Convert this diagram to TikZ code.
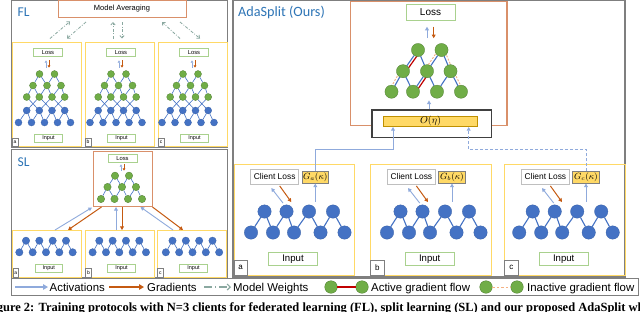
\documentclass[tikz,border=0pt]{standalone}
\usepackage{fontspec}
\setmainfont{Liberation Sans}
\newfontfamily\calfont{Carlito}
\newfontfamily\capfont{Liberation Serif}
\usetikzlibrary{arrows.meta,calc}
\pgfdeclarelayer{bgl}
\pgfdeclarelayer{edges}
\pgfsetlayers{bgl,edges,main}
\definecolor{bfill}{HTML}{4472C4}
\definecolor{bdraw}{HTML}{3A62A8}
\definecolor{gfill}{HTML}{70AD47}
\definecolor{gdraw}{HTML}{507E32}
\definecolor{edgeblue}{HTML}{4472C4}
\definecolor{actblue}{HTML}{8FAADC}
\definecolor{gradorange}{HTML}{C55A11}
\definecolor{mwgray}{HTML}{8AA8A0}
\definecolor{panelgray}{HTML}{7F7F7F}
\definecolor{srvorange}{HTML}{D9906A}
\definecolor{ylw}{HTML}{FFD966}
\definecolor{boxgreen}{HTML}{A9D18E}
\definecolor{titleblue}{HTML}{2E75B6}
\definecolor{activered}{HTML}{C00000}
\definecolor{inactpink}{HTML}{F4B183}
\definecolor{clgray}{HTML}{BFBFBF}
\definecolor{obgray}{HTML}{404040}
\definecolor{obarborder}{HTML}{BF9000}
\begin{document}
\begin{tikzpicture}[x=1pt,y=-1pt,
  panel/.style={draw=panelgray, line width=0.9pt},
  clientbox/.style={draw=ylw, line width=1pt, inner sep=0},
  srvbox/.style={draw=srvorange, line width=1pt, inner sep=0},
  tbox/.style={draw=boxgreen, line width=0.8pt, fill=white, inner sep=0},
  lblbox/.style={draw=panelgray, line width=0.5pt, fill=white, inner sep=0},
  gnode/.style={circle, fill=gfill, draw=gdraw, line width=0.3pt, inner sep=0, minimum size=#1},
  bnode/.style={circle, fill=bfill, draw=bdraw, line width=0.3pt, inner sep=0, minimum size=#1},
  tedge/.style={draw=edgeblue, line width=#1},
  tedge/.default=0.6pt,
  actS/.style={draw=actblue, line width=0.7pt, -{Triangle[length=2.2pt,width=2.6pt]}},
  gradS/.style={draw=gradorange, line width=0.7pt, -{Triangle[length=2.2pt,width=2.6pt]}},
  actM/.style={draw=actblue, line width=0.9pt, -{Triangle[length=3.6pt,width=3.8pt]}},
  gradM/.style={draw=gradorange, line width=1pt, -{Triangle[length=3.6pt,width=3.8pt]}},
  actL/.style={draw=actblue, line width=1.4pt, -{Triangle[length=5pt,width=5.5pt]}},
  gradL/.style={draw=gradorange, line width=1.4pt, -{Triangle[length=5pt,width=5.5pt]}},
  mw/.style={draw=mwgray, line width=0.8pt, dash pattern=on 3pt off 1.6pt on 0.8pt off 1.6pt, -{Straight Barb[length=2.4pt,width=4.4pt]}},
  mwL/.style={draw=mwgray, line width=1.2pt, dash pattern=on 8pt off 3pt on 1.2pt off 3pt, -{Straight Barb[length=3pt,width=6pt]}},
  ttl/.style={font=\calfont\fontsize{13.5}{15}\selectfont, text=titleblue, anchor=west, inner sep=0},
  lgtxt/.style={font=\fontsize{11.4}{13}\selectfont, anchor=base west, inner sep=0}
]
\useasboundingbox (0,0) rectangle (640,311);
\begin{pgfonlayer}{bgl}
  \fill[white] (0,0) rectangle (640,311);
\end{pgfonlayer}

% ================= FL =================
\draw[panel] (11.5,0.6) rectangle (227,147);
\node[ttl] (fltitle) at (17.5,12.5) {FL};
\node[srvbox, line width=0.9pt, minimum width=128pt, minimum height=16.5pt, font=\fontsize{7.5}{9}\selectfont] (mavg) at (122,8.75) {Model Averaging};
\foreach \i/\sx/\sy/\ex/\ey in {1/50/38.5/70/21.5, 2/86/22/67/38.5, 3/113/38.5/113/22, 4/122/22/122/38.5, 5/180/38.5/162/22, 6/180/22/200/38.5}{
  \coordinate (mw\i s) at (\sx,\sy);
  \coordinate (mw\i e) at (\ex,\ey);
  \draw[mw] (mw\i s) -- (mw\i e);
}
\foreach \lt/\cx/\tc in {a/46.5/47,b/119.5/118.5,c/192.5/190.5}{
  \draw[clientbox] (\cx-34.5,42) rectangle (\cx+34.5,146);
  \node[tbox, minimum width=29pt, minimum height=8.5pt, font=\fontsize{5.8}{6}\selectfont] (fl\lt-loss) at (\cx+1.5,52.5) {Loss};
  \node[tbox, minimum width=28pt, minimum height=7.5pt, font=\fontsize{5.5}{6}\selectfont] (fl\lt-in) at (\cx+2,138.5) {Input};
  \node[lblbox, minimum width=6pt, minimum height=8pt, font=\fontsize{5}{5}\selectfont] (fl\lt-lab) at (\cx-31.5,142) {\lt};
  \foreach \k/\dx in {1/-7.5,2/7.5} \node[gnode=7pt] (fl\lt-1-\k) at (\tc+\dx,74) {};
  \foreach \k/\dx in {1/-14,2/0,3/14} \node[gnode=7pt] (fl\lt-2-\k) at (\tc+\dx,85.5) {};
  \foreach \k/\dx in {1/-20.3,2/-7.7,3/5,4/17.7}{
    \node[gnode=7pt] (fl\lt-3-\k) at (\tc+\dx,97) {};
    \node[bnode=7pt] (fl\lt-4-\k) at (\tc+\dx,110.5) {};
  }
  \foreach \k/\dx in {1/-28.5,2/-15.5,3/-2.5,4/10.5,5/23.5} \node[bnode=7pt] (fl\lt-5-\k) at (\tc+\dx,122.5) {};
  \draw[actS] ([shift={(-2,10.5)}]fl\lt-loss.south) -- ([shift={(-2,3.3)}]fl\lt-loss.south);
  \draw[gradS] ([shift={(1,3.3)}]fl\lt-loss.south) -- ([shift={(1,10.5)}]fl\lt-loss.south);
  \begin{pgfonlayer}{edges}
    \draw[tedge] (fl\lt-1-1) -- (fl\lt-2-1) (fl\lt-1-1) -- (fl\lt-2-2);
    \draw[tedge] (fl\lt-1-2) -- (fl\lt-2-2) (fl\lt-1-2) -- (fl\lt-2-3);
    \foreach \j [evaluate=\j as \n using int(\j+1)] in {1,2,3}{
      \draw[tedge] (fl\lt-2-\j) -- (fl\lt-3-\j) (fl\lt-2-\j) -- (fl\lt-3-\n);
      \draw[tedge] (fl\lt-3-\j) -- (fl\lt-4-\n) (fl\lt-3-\n) -- (fl\lt-4-\j);}
    \foreach \j [evaluate=\j as \n using int(\j+1)] in {1,2,3,4}{
      \draw[tedge] (fl\lt-4-\j) -- (fl\lt-5-\j) (fl\lt-4-\j) -- (fl\lt-5-\n);}
  \end{pgfonlayer}
}

% ================= SL =================
\draw[panel] (11.5,149.5) rectangle (227,277.5);
\node[ttl] (sltitle) at (17.5,162) {SL};
\node[srvbox, minimum width=59pt, minimum height=55.5pt] (slsrv) at (122.5,178.75) {};
\node[tbox, minimum width=29pt, minimum height=7.5pt, font=\fontsize{5.8}{6}\selectfont] (slloss) at (122.5,158.5) {Loss};
\draw[actS] ([shift={(-1.5,8)}]slloss.south) -- ([shift={(-1.5,1.8)}]slloss.south);
\draw[gradS] ([shift={(1.5,1.8)}]slloss.south) -- ([shift={(1.5,8)}]slloss.south);
\foreach \k/\x in {1/115,2/129} \node[gnode=7.4pt] (sl-1-\k) at (\x,175.7) {};
\foreach \k/\x in {1/107.5,2/122,3/136} \node[gnode=7.4pt] (sl-2-\k) at (\x,187) {};
\foreach \k/\x in {1/101,2/114.5,3/128,4/142} \node[gnode=7.4pt] (sl-3-\k) at (\x,199) {};
\begin{pgfonlayer}{edges}
  \foreach \j [evaluate=\j as \n using int(\j+1)] in {1,2}{
    \draw[tedge] (sl-1-\j) -- (sl-2-\j) (sl-1-\j) -- (sl-2-\n);}
  \foreach \j [evaluate=\j as \n using int(\j+1)] in {1,2,3}{
    \draw[tedge] (sl-2-\j) -- (sl-3-\j) (sl-2-\j) -- (sl-3-\n);}
\end{pgfonlayer}
\foreach \lt/\cx/\tc in {a/47.3/46,b/120/119.3,c/192/192.5}{
  \node[clientbox, minimum width=69pt, minimum height=47pt] (sl\lt) at (\cx,254) {};
  \foreach \k/\dx in {1/-20,2/-6.67,3/6.67,4/20} \node[bnode=7.4pt] (sl\lt-t-\k) at (\tc+\dx,240.7) {};
  \foreach \k/\dx in {1/-26.67,2/-13.33,3/0,4/13.33,5/26.67} \node[bnode=7.4pt] (sl\lt-b-\k) at (\tc+\dx,252.3) {};
  \node[tbox, minimum width=27.5pt, minimum height=8.5pt, font=\fontsize{5.5}{6}\selectfont] (sl\lt-in) at (\cx+1.5,268.3) {Input};
  \node[lblbox, minimum width=5.8pt, minimum height=9pt, font=\fontsize{5}{5}\selectfont] (sl\lt-lab) at (\cx-31.6,273) {\lt};
  \begin{pgfonlayer}{edges}
    \foreach \j [evaluate=\j as \n using int(\j+1)] in {1,2,3,4}{
      \draw[tedge] (sl\lt-b-\j) -- (sl\lt-t-\j) -- (sl\lt-b-\n);}
  \end{pgfonlayer}
}
\draw[actM] ([xshift=7.7pt]sla.north) -- ([shift={(-0.5,0.5)}]slsrv.south west);
\draw[gradM] ([xshift=9pt]slsrv.south west) -- ([xshift=20.7pt]sla.north);
\draw[actM] ([xshift=-4pt]slb.north) -- ([xshift=-6.5pt]slsrv.south);
\draw[gradM] ([xshift=-0.5pt]slsrv.south) -- ([xshift=2pt]slb.north);
\draw[actM] ([xshift=-19pt]slc.north) -- ([xshift=-12pt]slsrv.south east);
\draw[gradM] (slsrv.south east) -- ([xshift=-9pt]slc.north);

% ================= AdaSplit =================
\draw[panel, line width=1.1pt] (233,0.6) rectangle (625,277);
\node[ttl, font=\calfont\fontsize{14.2}{16}\selectfont] (adatitle) at (238,12.3) {AdaSplit (Ours)};
\node[srvbox, line width=1.1pt, minimum width=156.3pt, minimum height=124pt] (adasrv) at (428.85,63.7) {};
\node[tbox, line width=1pt, minimum width=49pt, minimum height=16.4pt, font=\fontsize{10}{12}\selectfont] (adaloss) at (430.5,12.5) {Loss};
\draw[actM] ([shift={(-3.5,17)}]adaloss.south) -- ([shift={(-3.5,5.5)}]adaloss.south);
\draw[gradM] ([shift={(3.2,5.5)}]adaloss.south) -- ([shift={(3.2,17)}]adaloss.south);
\foreach \k/\x in {1/418,2/441.5} \node[gnode=13.2pt] (s-1-\k) at (\x,50) {};
\foreach \k/\x in {1/403,2/427,3/450.5} \node[gnode=13.2pt] (s-2-\k) at (\x,71.2) {};
\foreach \k/\x in {1/391.5,2/413,3/437,4/461} \node[gnode=13.2pt] (s-3-\k) at (\x,91.7) {};
\begin{pgfonlayer}{edges}
  \foreach \a/\b in {1-1/2-1,1-1/2-2,1-2/2-2,1-2/2-3,2-1/3-1,2-1/3-2,2-2/3-2,2-2/3-3,2-3/3-3,2-3/3-4}
    \draw[tedge=1.1pt] (s-\a) -- (s-\b);
  \draw[activered, line width=1.2pt] ($(s-1-1)!2.6pt!90:(s-2-1)$) -- ($(s-2-1)!2.6pt!-90:(s-1-1)$);
  \draw[activered, line width=1.2pt] ($(s-2-2)!2.6pt!90:(s-3-2)$) -- ($(s-3-2)!2.6pt!-90:(s-2-2)$);
  \draw[inactpink, line width=0.9pt, dash pattern=on 2pt off 1.5pt] ($(s-1-2)!2.6pt!-90:(s-2-2)$) -- ($(s-2-2)!2.6pt!90:(s-1-2)$);
  \draw[inactpink, line width=0.9pt, dash pattern=on 2pt off 1.5pt] ($(s-1-2)!2.6pt!90:(s-2-3)$) -- ($(s-2-3)!2.6pt!-90:(s-1-2)$);
  \draw[inactpink, line width=0.9pt, dash pattern=on 2pt off 1.5pt] ($(s-2-1)!2.6pt!-90:(s-3-1)$) -- ($(s-3-1)!2.6pt!90:(s-2-1)$);
  \draw[inactpink, line width=0.9pt, dash pattern=on 2pt off 1.5pt] ($(s-2-3)!2.6pt!90:(s-3-4)$) -- ($(s-3-4)!2.6pt!-90:(s-2-3)$);
\end{pgfonlayer}
\node[draw=obgray, line width=1.2pt, fill=white, minimum width=119.3pt, minimum height=27.7pt, inner sep=0] (obox) at (431.65,123.85) {};
\node[fill=ylw, draw=obarborder, line width=0.6pt, minimum width=93.6pt, minimum height=10.7pt, inner sep=0, font=\fontsize{10}{12}\selectfont] (obar) at (430.5,121.35) {$O(\eta)$};
\draw[actM] ([xshift=-2.65pt]obox.north) -- ([shift={(-2.65,-9)}]obox.north);

\foreach \lt/\bx/\ts in {a/234/0,b/370.7/-0.7,c/504.7/-2.5}{
  \node[clientbox, minimum width=120.5pt, minimum height=111pt] (ada\lt) at (\bx+60.25,219.5) {};
  \node[draw=clgray, line width=0.8pt, fill=white, minimum width=48pt, minimum height=15.3pt, inner sep=0, font=\fontsize{8.4}{10}\selectfont] (cl\lt) at (\bx+40.7,176.7) {Client Loss};
  \node[fill=ylw, draw=panelgray, line width=0.5pt, minimum width=26.7pt, minimum height=11.6pt, inner sep=0, font=\fontsize{9}{10}\selectfont] (g\lt) at (\bx+81.3,177.5) {$G_\lt(\kappa)$};
  \foreach \k/\dx in {1/30.5,2/52.5,3/75,4/99} \node[bnode=13.4pt] (ada\lt-t-\k) at (\bx+\dx+\ts,211.5) {};
  \foreach \k/\dx in {1/17,2/39,3/60,4/86.5,5/110.5} \node[bnode=13.4pt] (ada\lt-b-\k) at (\bx+\dx+\ts,232.5) {};
  \begin{pgfonlayer}{edges}
    \foreach \j [evaluate=\j as \n using int(\j+1)] in {1,2,3,4}{
      \draw[tedge=1.1pt] (ada\lt-b-\j) -- (ada\lt-t-\j) -- (ada\lt-b-\n);}
  \end{pgfonlayer}
  \draw[actM] ([shift={(8.3,18.3)}]cl\lt.south) -- ([shift={(-3.4,3.3)}]cl\lt.south);
  \draw[gradM] ([shift={(5,1.2)}]cl\lt.south) -- ([shift={(16.6,17.3)}]cl\lt.south);
  \draw[actM] ([shift={(0,18.4)}]g\lt.south) -- (g\lt.south);
  \node[tbox, line width=0.9pt, minimum width=48.6pt, minimum height=12.3pt, font=\fontsize{9.6}{11}\selectfont] (ada\lt-in) at (\bx+59,258.8) {Input};
  \node[lblbox, line width=0.7pt, minimum width=13.3pt, minimum height=15pt, font=\fontsize{8}{9}\selectfont] (ada\lt-lab) at (\bx+6.65,267.5) {\lt};
}
\coordinate (ja) at (393,149.3);
\coordinate (jc) at (468.7,149.3);
\draw[actM] (ga.north) |- (ja) -- (ja |- obar.south);
\draw[actM, dash pattern=on 3pt off 2pt] (gc.north) |- (jc) -- (jc |- obar.south);

% ================= Legend =================
\draw[panel] (11.7,278.8) rectangle (638,295);
\coordinate (la1) at (15,287); \coordinate (la2) at (48,287);
\draw[actL] (la1) -- (la2);
\node[lgtxt] (lt1) at (49.5,291.2) {Activations};
\coordinate (lb1) at (109,287); \coordinate (lb2) at (144,287);
\draw[gradL] (lb1) -- (lb2);
\node[lgtxt] (lt2) at (147,291.2) {Gradients};
\coordinate (lc1) at (204,287); \coordinate (lc2) at (231,287);
\draw[mwL] (lc1) -- (lc2);
\node[lgtxt] (lt3) at (233,291.2) {Model Weights};
\node[gnode=12.6pt] (lg1) at (331,287) {};
\node[gnode=12.6pt] (lg2) at (362,287) {};
\draw[activered, line width=1.2pt] (lg1) -- (lg2);
\node[lgtxt] (lt4) at (371,291.2) {Active gradient flow};
\node[gnode=12.6pt] (lg3) at (486,287) {};
\node[gnode=12.6pt] (lg4) at (517,287) {};
\draw[inactpink, line width=1pt, dash pattern=on 2.5pt off 2pt] (lg3) -- (lg4);
\node[lgtxt] (lt5) at (527,291.2) {Inactive gradient flow};

% ================= Caption (cut off, as in the reference) =================
\begin{scope}
  \clip (0,0) rectangle (640,311);
  \node[anchor=base west, inner sep=0, font=\capfont\bfseries\fontsize{12.5}{14}\selectfont] (caption) at (-14.5,311.8) {Figure 2: Training protocols with N=3 clients for federated learning (FL), split learning (SL) and our proposed AdaSplit which};
\end{scope}
\end{tikzpicture}
\end{document}
